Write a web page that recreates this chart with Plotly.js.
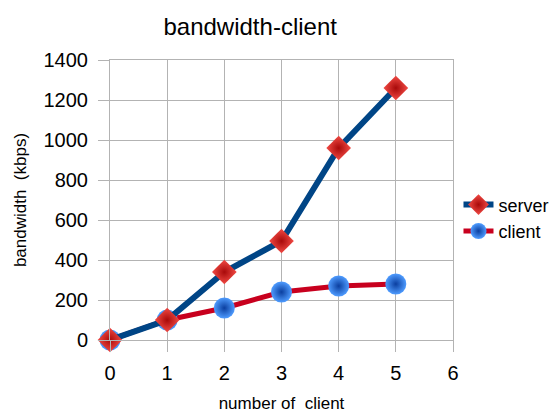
<!DOCTYPE html>
<html>
<head>
<meta charset="utf-8">
<script src="https://cdn.plot.ly/plotly-3.0.1.min.js"></script>
<style>html,body{margin:0;padding:0;background:#fff;}#chart{width:556px;height:413px;}</style>
</head>
<body>
<div id="chart"></div>
<script>
var clients = [0, 1, 2, 3, 4, 5];
var serverBandwidth = [0, 100, 340, 495, 960, 1260];
var clientBandwidth = [0, 100, 160, 240, 270, 280];
var xTicks = [0, 1, 2, 3, 4, 5, 6];
var yTicks = [0, 200, 400, 600, 800, 1000, 1200, 1400];

var font = 'Liberation Sans, Arial, sans-serif';

var traces = [
  {
    x: clients, y: clientBandwidth, name: 'client', type: 'scatter', mode: 'lines+markers',
    cliponaxis: false,
    line: {color: '#c8001e', width: 5},
    marker: {symbol: 'circle', size: 21, color: '#4f9cff',
      gradient: {type: 'radial', color: '#0b3fa0'}, line: {width: 0}}
  },
  {
    x: clients, y: serverBandwidth, name: 'server', type: 'scatter', mode: 'lines+markers',
    cliponaxis: false,
    line: {color: '#004586', width: 6},
    marker: {symbol: 'diamond', size: 19, color: '#f24b45',
      gradient: {type: 'radial', color: '#a80a0a'}, line: {width: 0}}
  }
];

var layout = {
  width: 556, height: 413,
  margin: {l: 110, r: 103, t: 60, b: 73, autoexpand: false},
  paper_bgcolor: '#ffffff', plot_bgcolor: '#ffffff',
  font: {family: font, color: '#000000'},
  title: {text: 'bandwidth-client', font: {family: font, size: 24, color: '#000'},
    xref: 'container', x: 0.45, xanchor: 'center', yref: 'container', y: 0.935, yanchor: 'middle'},
  showlegend: true,
  legend: {x: 1.016, xanchor: 'left', y: 0.436, yanchor: 'middle', traceorder: 'reversed',
    font: {family: font, size: 18, color: '#000'}, bgcolor: 'rgba(0,0,0,0)', itemwidth: 30},
  xaxis: {
    range: [0, 6], tickvals: xTicks, ticktext: xTicks.map(String),
    showgrid: true, gridcolor: '#b3b3b3', gridwidth: 1, zeroline: false,
    showline: true, linecolor: '#b3b3b3', linewidth: 1, mirror: true,
    ticks: 'outside', ticklen: 11, tickcolor: '#b3b3b3', tickwidth: 1, ticklabelstandoff: 4,
    tickfont: {family: font, size: 20, color: '#000'},
    title: {text: 'number of  client', font: {family: font, size: 17, color: '#000'}, standoff: 16},
    fixedrange: true
  },
  yaxis: {
    range: [0, 1400], tickvals: yTicks, ticktext: yTicks.map(String),
    showgrid: true, gridcolor: '#b3b3b3', gridwidth: 1, zeroline: false,
    showline: true, linecolor: '#b3b3b3', linewidth: 1, mirror: true,
    ticks: 'outside', ticklen: 11, tickcolor: '#b3b3b3', tickwidth: 1, ticklabelstandoff: 6,
    tickfont: {family: font, size: 20, color: '#000'},
    title: {text: 'bandwidth  (kbps)', font: {family: font, size: 17, color: '#000'}, standoff: 12},
    fixedrange: true
  }
};

Plotly.newPlot('chart', traces, layout, {displayModeBar: false, staticPlot: true});
</script>
</body>
</html>
